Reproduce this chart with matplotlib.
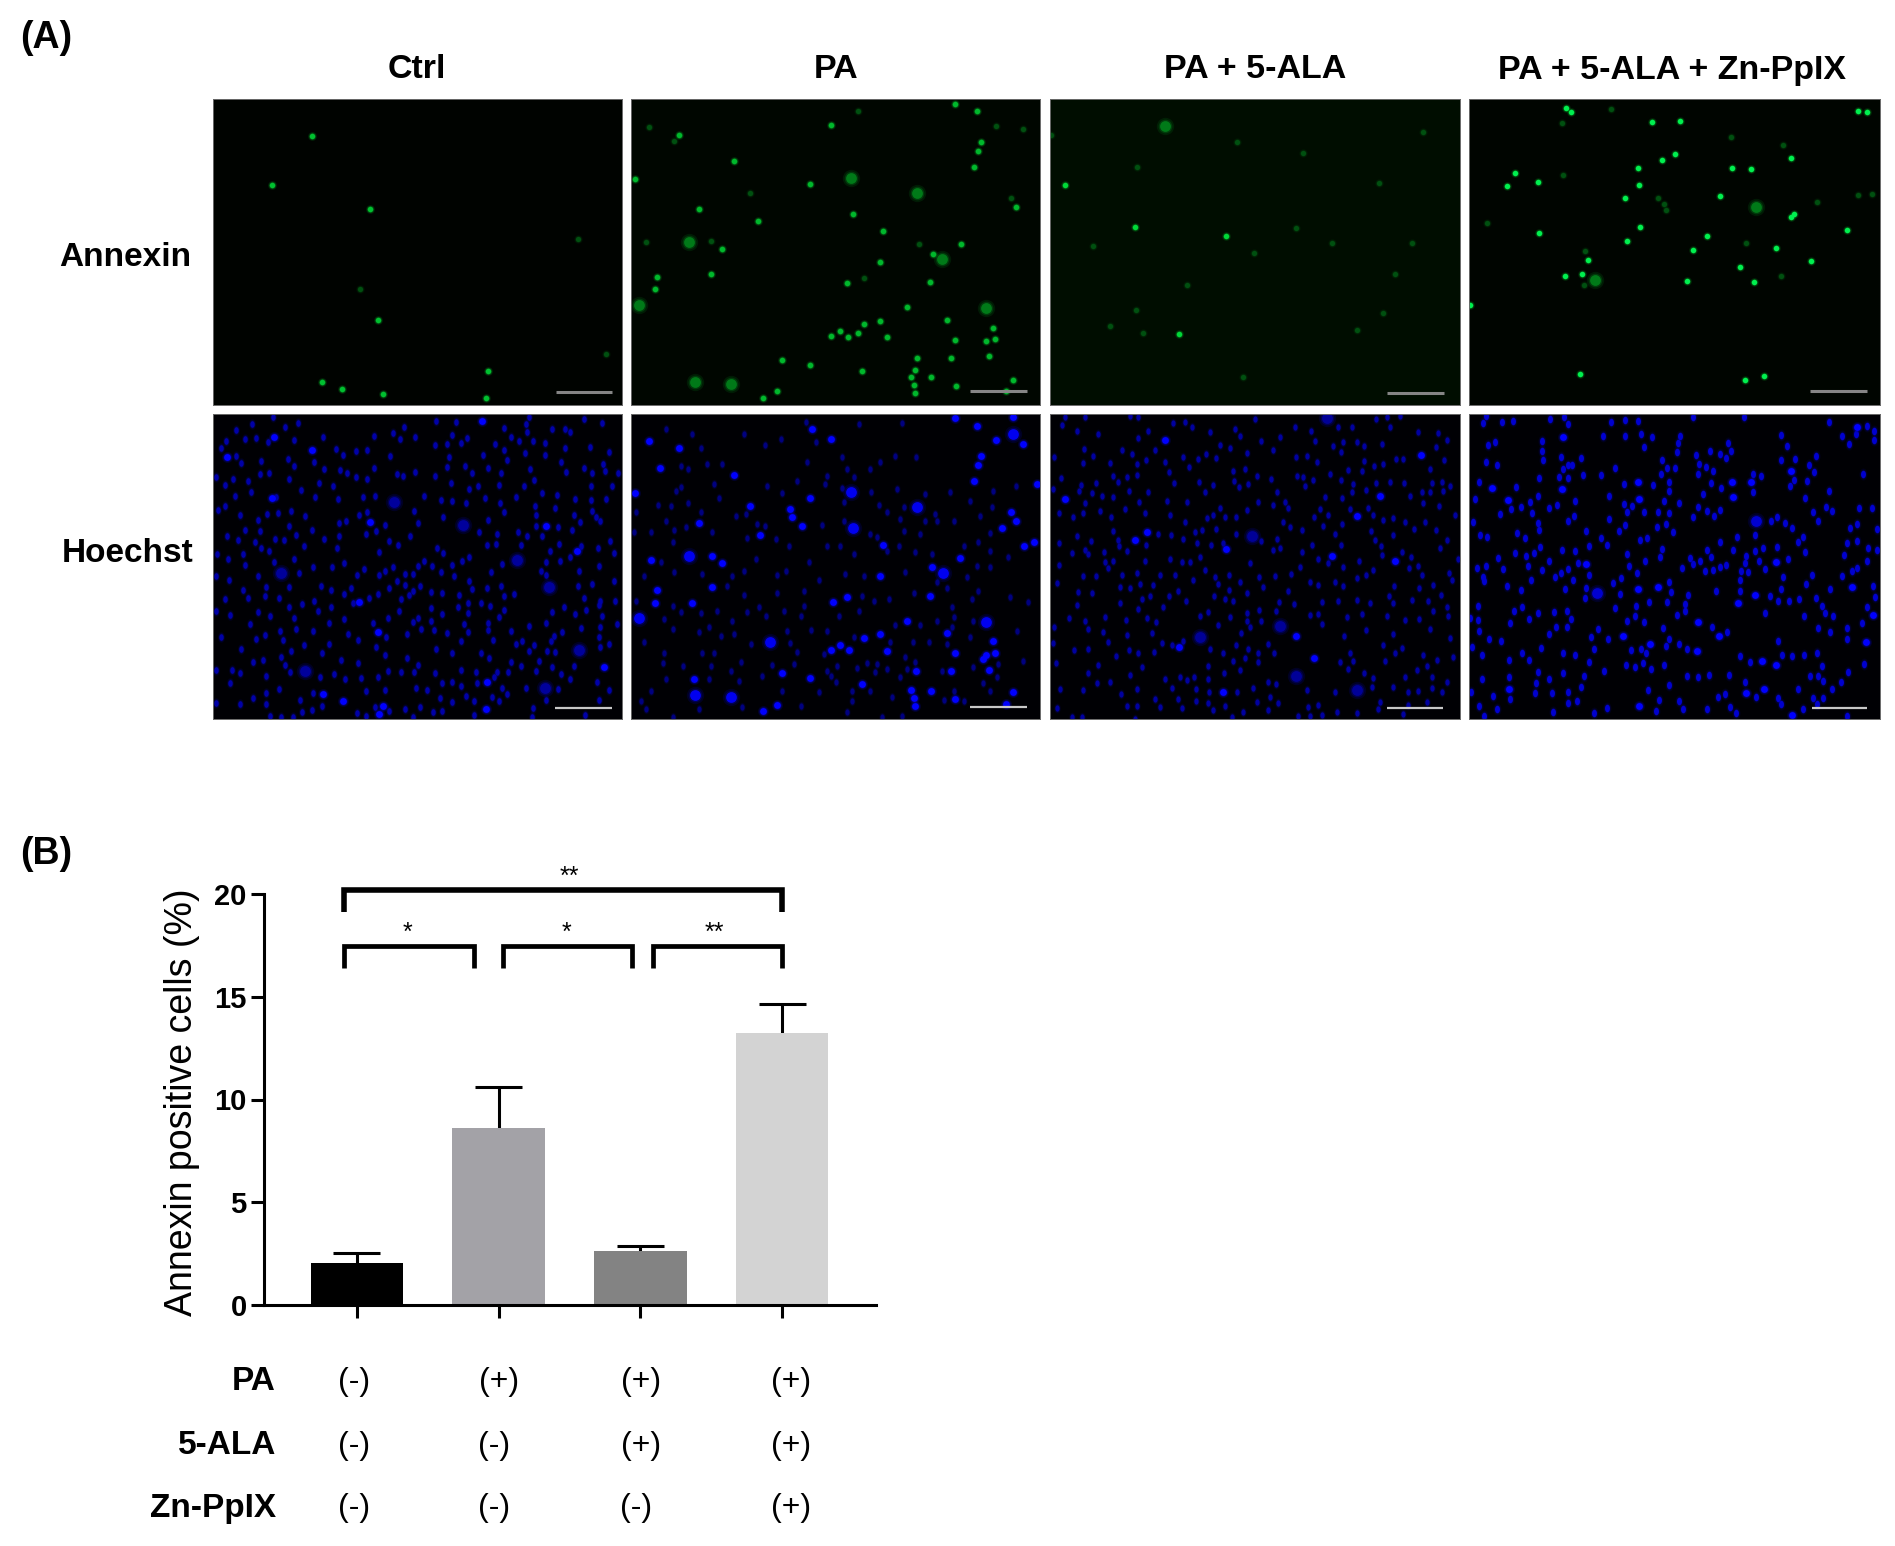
import matplotlib
matplotlib.use('Agg')
import matplotlib.pyplot as plt
from matplotlib.markers import MarkerStyle
from matplotlib.transforms import Affine2D

plt.rcParams['font.family'] = ['Liberation Sans', 'DejaVu Sans']

W, H = 1895, 1546

# ---- panel B values ----
bar_means = [2.05, 8.6, 2.64, 13.25]
bar_errors = [0.5, 2.03, 0.25, 1.38]
bar_colors = ['#000000', '#a3a2a7', '#838383', '#d3d3d3']
y_ticks = [0, 5, 10, 15, 20]
pa_row = ['(-)', '(+)', '(+)', '(+)']
ala_row = ['(-)', '(-)', '(+)', '(+)']
zn_row = ['(-)', '(-)', '(-)', '(+)']
row_names = ['PA', '5-ALA', 'Zn-PpIX']
col_names = ['Ctrl', 'PA', 'PA + 5-ALA', 'PA + 5-ALA + Zn-PpIX']

# brackets: start, end (in bar positions), top value, foot value, stars
bracket_x0 = [-0.09, -0.09, 1.03, 2.09]
bracket_x1 = [3.0, 0.825, 1.94, 3.0]
bracket_top = [20.2, 17.47, 17.47, 17.47]
bracket_foot = [19.1, 16.4, 16.4, 16.4]
bracket_stars = ['**', '*', '*', '**']
star_x = [1.5, 0.36, 1.48, 2.52]
star_y = [20.85, 18.1, 18.1, 18.1]

ctrl_annexin = [(298,112),(176,258),(471,328),(495,661),(826,812),(327,847),(389,867),(511,881),(820,893)]
ctrl_annexin_dim = [(1097,419),(442,568),(1181,762)]
ctrl_annexin_big = []

pa_annexin = [(600,77),(310,185),(538,254),(975,15),(1040,37),(1052,128),(1044,155),(1032,203),(143,107),(12,238),
    (204,329),(382,366),(668,345),(757,396),(275,449),(242,523),(78,531),(73,568),(651,551),(750,488),(907,464),
    (900,547),(992,433),(1158,324),(830,621),(950,660),(750,664),(702,674),(630,695),(600,710),(654,711),(684,701),
    (770,712),(973,722),(1089,685),(1068,724),(1096,718),(455,781),(538,795),(695,813),(860,774),(963,775),(1077,769),
    (855,811),(841,831),(903,832),(852,855),(855,878),(976,858),(1150,840),(1128,872),(438,874),(398,894)]
pa_annexin_dim = [(1098,80),(1180,90),(130,125),(1143,297),(867,434),(683,36),(358,280),(53,85),(45,428),(700,535),(240,425)]
pa_annexin_big = [(663,236),(860,282),(175,428),(935,478),(25,615),(1068,626),(193,847),(300,852)]

ala_annexin = [(44,258),(255,383),(528,410),(386,704)]
ala_annexin_dim = [(611,461),(846,430),(4,108),(986,250),(262,203),(1035,522),(1086,430),(737,385),(258,630),(560,130),(920,690),
    (760,160),(1120,100),(280,700),(1000,640),(410,555),(180,680),(580,830),(130,440)]
ala_annexin_big = [(344,82)]

zn_annexin = [(290,26),(305,40),(1165,37),(1192,40),(548,70),(632,66),(617,165),(577,182),(505,205),(965,176),(788,207),
    (843,208),(138,222),(207,249),(115,261),(508,257),(750,289),(468,296),(972,343),(964,352),(512,382),(210,401),
    (1131,391),(712,411),(473,426),(919,445),(670,453),(355,481),(1024,485),(810,503),(338,523),(286,528),(653,545),
    (854,546),(3,617),(333,823),(826,840),(882,829)]
zn_annexin_dim = [(425,30),(278,72),(783,113),(940,137),(280,228),(565,296),(1163,288),(1205,285),(1040,307),(53,370),
    (830,430),(348,454),(935,528),(345,556),(584,315),(590,332)]
zn_annexin_big = [(860,323),(378,540)]

ctrl_hoechst = [(180,8),(255,28),(218,38),(118,30),(70,48),(575,38),(670,20),(732,25),(875,42),(940,30),(950,8),(1020,45),
    (1060,45),(1075,55),(1115,15),(1170,28),(485,66),(540,58),(562,76),(607,70),(718,62),(765,72),(895,68),(945,55),(332,68),
    (245,78),(130,72),(97,76),(38,82),(165,85),(668,92),(705,90),(745,88),(847,90),(920,82),(962,80),(997,86),(1135,100),
    (1060,103),(25,102),(370,105),(430,110),(462,108),(392,122),(70,125),(225,135),(532,125),(710,128),(812,122),(875,108),
    (938,118),(997,122),(1190,114),(885,138),(145,142),(303,145),(1047,144),(85,148),(245,156),(335,165),(485,162),(383,168),
    (403,176),(168,178),(757,155),(703,160),(828,162),(952,165),(1172,150),(1115,163),(1217,178),(1062,175),(1140,178),
    (1180,172),(552,180),(572,187),(607,175),(668,187),(780,178),(867,178),(430,190),(463,196),(8,188),(60,195),(140,180),
    (228,195),(105,200),(965,198),(35,212),(320,208),(360,215),(715,206),(860,213),(935,215),(1138,217),(1200,215),(798,215),
    (770,225),(265,228),(115,235),(990,238),(1035,242),(450,250),(487,245),(635,245),(188,250),(67,246),(308,250),(545,265),
    (687,258),(718,262),(817,252),(910,250),(1090,255),(1138,258),(1183,255),(377,255),(760,268),(863,268),(35,275),(15,288),
    (82,302),(968,275),(1030,282),(972,302),(875,293),(1085,302),(1140,292),(235,292),(195,296),(463,294),(440,303),(605,290),
    (277,306),(692,310),(163,300),(135,318),(828,318),(1105,325),(1165,322),(1152,310),(400,322),(378,328),(518,332),(615,328),
    (228,336),(755,335),(142,352),(95,348),(297,348),(490,352),(460,360),(800,353),(853,360),(918,355),(1037,340),(1080,348),
    (970,335),(42,366),(250,362),(378,366),(335,375),(592,367),(988,367),(945,366),(187,376),(215,377),(75,378),(125,383),
    (528,380),(1193,380),(275,395),(555,393),(372,402),(825,393),(852,390),(925,392),(1042,390),(143,402),(675,402),(1157,403),
    (1108,395),(500,413),(693,418),(168,410),(90,420),(12,420),(1013,410),(1205,418),(45,436),(243,434),(183,444),(393,448),
    (635,440),(915,437),(770,430),(750,442),(1075,430),(1045,440),(1002,445),(870,450),(660,455),(718,452),(95,452),(300,460),
    (357,458),(455,465),(540,458),(615,455),(1160,456),(985,470),(205,476),(135,485),(258,476),(518,470),(685,475),(837,475),
    (433,483),(500,482),(1100,472),(1002,482),(8,487),(725,485),(578,480),(600,480),(48,497),(1205,500),(770,500),(552,500),
    (160,518),(1010,520),(228,520),(90,527),(325,515),(415,522),(622,515),(530,523),(578,512),(1140,510),(1097,515),(825,522),
    (865,515),(780,525),(600,530),(355,527),(105,553),(470,553),(393,540),(688,537),(655,533),(740,543),(905,540),(875,547),
    (198,552),(155,545),(495,540),(35,555),(305,560),(565,555),(590,543),(1165,560),(1117,552),(1210,560),(420,568),(268,570),
    (355,578),(767,566),(805,568),(833,575),(1055,580),(230,580),(655,582),(738,580),(875,588),(1160,572),(135,595),(315,590),
    (560,592),(1123,587),(8,592),(1020,593),(768,598),(688,600),(1090,600),(52,602),(172,605),(245,612),(395,615),(525,612),
    (615,612),(1170,605),(860,610),(655,620),(480,628),(600,625),(348,628),(112,630),(755,630),(828,628),(1000,628),(1215,630),
    (950,637),(625,645),(250,645),(200,650),(300,652),(665,647),(1108,643),(582,660),(703,657),(767,655),(828,648),(897,652),
    (1050,655),(1165,640),(25,668),(155,663),(405,660),(520,668),(1025,665),(130,675),(210,678),(437,678),(843,677),(1160,668),
    (745,680),(350,690),(275,692),(930,682),(910,690),(965,692),(1015,680),(490,698),(83,705),(235,710),(670,705),(1165,698),
    (950,712),(1003,710),(327,718),(718,718),(518,722),(1030,715),(1190,690),(805,716),(205,730),(830,733),(583,733),(150,738),
    (385,737),(120,743),(218,752),(437,748),(615,752),(895,743),(980,742),(925,755),(1087,755),(1020,758),(8,768),(58,768),
    (278,772),(232,775),(82,778),(527,770),(565,773),(745,768),(603,773),(668,777),(790,773),(855,775),(970,770),(1047,780),
    (888,775),(365,780),(160,785),(322,790),(398,795),(445,792),(495,790),(845,788),(1075,795),(690,807),(720,805),(795,808),
    (52,808),(1155,805),(745,815),(610,821),(645,827),(198,825),(460,832),(517,827),(870,822),(940,823),(1037,825),(160,837),
    (300,838),(885,840),(1190,827),(120,852),(683,853),(760,845),(840,850),(8,868),(263,858),(718,865),(785,860),(1000,857),
    (1160,857),(860,860),(82,870),(160,870),(328,875),(487,878),(622,878),(578,884),(298,888),(963,883),(268,893),(690,892),
    (662,895),(432,896),(528,892),(170,905),(205,910),(240,910),(1120,902),(785,902),(600,910),(960,910),(460,905)]
ctrl_hoechst_bright = [(810,20),(183,70),(298,107),(42,128),(472,323),(1000,335),(1095,412),(440,565),(495,655),(1177,758),
    (825,805),(330,840),(392,860),(510,875),(820,886),(500,900),(178,253)]
ctrl_hoechst_big = [(545,265),(753,332),(915,437),(1010,520),(1100,708),(998,822),(278,772),(205,476)]

pa_hoechst = [(183,60),(105,45),(210,102),(403,92),(340,60),(450,75),(525,25),(685,30),(815,28),(858,130),(750,145),(720,165),
    (795,125),(555,85),(635,130),(530,145),(650,165),(230,150),(275,150),(150,155),(170,165),(135,230),(150,220),(250,210),
    (410,215),(453,237),(500,200),(590,185),(670,190),(582,210),(635,222),(722,235),(800,225),(960,235),(1020,262),(1090,230),
    (1158,215),(885,240),(265,253),(172,267),(80,272),(120,275),(15,295),(210,295),(315,307),(345,300),(640,265),(745,272),
    (770,295),(820,280),(1050,305),(1085,280),(915,300),(105,320),(60,355),(130,347),(165,340),(245,355),(378,330),(403,335),
    (575,333),(640,320),(810,315),(885,320),(920,320),(970,322),(350,372),(437,375),(475,395),(590,397),(720,360),(740,368),
    (820,352),(870,360),(1080,358),(10,355),(1045,385),(1000,395),(125,385),(375,435),(535,445),(670,420),(630,395),(770,412),
    (805,395),(855,415),(905,420),(1080,410),(1135,430),(1040,455),(90,445),(130,473),(215,480),(305,485),(340,470),(440,483),
    (465,470),(565,497),(645,480),(700,487),(825,473),(1080,460),(40,485),(1010,490),(920,505),(950,522),(290,517),(440,537),
    (520,530),(850,538),(1045,530),(1025,555),(1140,550),(15,560),(125,575),(340,543),(385,580),(520,575),(695,545),(730,560),
    (775,555),(1195,565),(210,597),(258,592),(350,595),(460,590),(405,607),(510,605),(685,590),(965,580),(970,610),(100,615),
    (150,593),(305,620),(625,607),(795,632),(870,632),(920,620),(1030,620),(125,645),(235,640),(205,655),(270,665),(310,660),
    (470,650),(540,648),(590,650),(965,640),(1160,650),(1020,670),(40,685),(360,690),(478,687),(670,670),(778,685),(847,685),
    (895,685),(950,690),(100,717),(215,717),(250,717),(500,715),(580,720),(825,730),(95,748),(155,757),(240,755),(300,772),
    (330,745),(425,752),(490,750),(620,755),(710,748),(740,750),(1180,740),(1105,750),(855,745),(590,770),(680,762),(735,775),
    (770,765),(830,765),(935,770),(395,785),(1030,760),(105,795),(235,795),(325,800),(600,785),(810,790),(1060,808),(1100,790),
    (615,805),(455,830),(565,835),(665,830),(720,830),(1080,830),(970,830),(60,830),(30,860),(785,850),(1000,860),(940,858),
    (45,885),(205,885),(335,880),(510,875),(665,860),(650,895),(125,910),(755,908),(815,905)]
pa_hoechst_bright = [(1148,8),(88,162),(12,238),(538,252),(600,75),(310,182),(205,327),(358,276),(388,363),(245,425),(275,446),
    (243,520),(78,528),(73,566),(183,568),(440,872),(398,890),(455,778),(538,792),(695,810),(750,486),(905,460),(898,545),(608,563),
    (650,548),(830,620),(950,658),(702,672),(750,660),(630,692),(600,707),(655,708),(770,710),(973,718),(1088,682),(1067,722),
    (1095,716),(1058,735),(963,770),(1077,767),(858,770),(903,830),(1148,835),(975,855),(1128,870),(852,853),(855,875),(842,828),
    (988,432),(1158,322),(1143,294),(1040,35),(1052,125),(1044,152),(1032,202),(975,12),(545,44),(1213,385),(1115,342),(757,393),
    (478,285),(485,310),(513,335),(60,437),(145,103),(53,82),(1098,78),(188,795),(1182,395),(1180,90),(1220,210)]
pa_hoechst_big = [(663,233),(860,278),(1150,60),(668,343),(175,426),(25,611),(418,684),(193,843),(300,848),(938,476),(1068,623)]

ala_hoechst = [(35,32),(80,50),(145,60),(105,8),(45,8),(240,5),(265,8),(370,28),(405,25),(425,40),(480,55),(555,45),(615,15),
    (905,40),(865,40),(1010,8),(1050,5),(1020,38),(978,15),(735,40),(782,50),(690,68),(632,80),(570,65),(510,92),(540,102),
    (468,120),(265,72),(295,50),(315,108),(215,108),(245,120),(102,105),(12,130),(128,125),(590,118),(668,108),(795,82),(850,95),
    (880,85),(920,85),(943,95),(997,90),(1105,55),(1165,57),(1192,78),(1157,100),(400,130),(418,158),(345,145),(262,150),(288,137),
    (180,146),(100,148),(498,133),(445,135),(738,130),(772,127),(800,145),(872,115),(942,142),(973,155),(1000,150),(1037,135),
    (1060,135),(1140,165),(1183,138),(585,165),(548,170),(358,175),(260,183),(188,187),(232,190),(32,193),(620,187),(662,195),
    (740,185),(758,190),(788,197),(840,180),(873,198),(895,168),(935,170),(552,200),(205,205),(372,207),(448,203),(490,212),
    (595,210),(765,215),(910,210),(978,208),(1020,205),(1063,208),(1147,207),(1175,205),(92,212),(88,230),(137,207),(568,220),
    (8,225),(237,230),(295,235),(465,235),(680,233),(948,228),(1178,232),(1200,215),(125,238),(155,245),(188,250),(350,262),
    (268,264),(412,265),(625,265),(705,265),(668,273),(825,248),(875,252),(905,235),(1080,247),(1115,235),(1140,235),(1118,268),
    (1168,275),(105,268),(225,285),(150,290),(28,298),(100,298),(285,298),(360,303),(510,282),(590,288),(488,302),(525,310),
    (557,310),(715,282),(810,285),(955,283),(900,285),(835,303),(792,310),(970,302),(1215,302),(70,310),(183,310),(470,312),
    (405,325),(700,325),(875,330),(820,335),(1000,318),(1030,312),(1125,325),(720,340),(755,348),(1065,325),(1092,345),(1158,347),
    (190,350),(455,348),(498,345),(435,355),(558,360),(325,360),(362,362),(855,360),(962,350),(1030,362),(80,367),(400,375),
    (205,378),(122,380),(632,382),(680,376),(975,378),(1190,378),(28,388),(208,395),(288,393),(440,388),(483,392),(518,388),
    (787,392),(873,393),(993,395),(690,402),(670,408),(105,408),(1170,403),(65,418),(162,415),(230,412),(757,415),(115,420),
    (997,422),(1082,430),(1055,415),(360,435),(285,440),(450,430),(397,445),(421,445),(600,446),(803,435),(928,440),(28,452),
    (165,443),(190,442),(835,447),(880,458),(750,460),(175,462),(465,468),(968,468),(1078,463),(1105,455),(1225,435),(100,485),
    (137,485),(215,482),(262,478),(330,483),(375,482),(537,483),(627,490),(675,487),(722,480),(948,482),(1117,482),(1197,478),
    (495,488),(920,493),(430,498),(570,503),(780,505),(803,512),(855,505),(20,508),(1205,498),(505,510),(210,520),(240,522),
    (270,510),(310,512),(640,520),(880,517),(1033,517),(538,527),(85,535),(125,537),(592,536),(715,530),(1107,522),(1150,512),
    (385,530),(357,545),(492,547),(300,547),(275,555),(1017,545),(1172,543),(525,555),(550,560),(688,563),(408,562),(1085,558),
    (920,557),(960,567),(210,567),(815,563),(865,562),(80,572),(733,570),(1030,567),(340,578),(265,585),(628,588),(678,590),
    (1133,560),(1190,578),(1150,590),(475,595),(590,597),(450,605),(780,603),(805,600),(890,608),(935,600),(1010,607),(1195,606),
    (57,612),(165,610),(292,612),(228,618),(540,610),(1065,618),(1108,615),(318,625),(105,622),(592,622),(632,622),(815,630),
    (505,632),(600,640),(12,640),(115,645),(947,648),(1140,645),(158,655),(573,657),(232,662),(307,657),(1030,660),(882,665),
    (8,688),(175,685),(1200,672),(335,688),(365,692),(398,682),(558,693),(655,690),(1000,692),(72,708),(115,705),(238,708),
    (263,717),(312,714),(480,705),(595,705),(1055,703),(1035,717),(518,717),(625,718),(673,717),(198,725),(900,718),(550,740),
    (585,733),(1120,722),(1210,730),(625,745),(1005,742),(870,745),(908,740),(1160,738),(18,747),(143,752),(475,755),(277,760),
    (1130,755),(895,765),(570,769),(1100,767),(115,778),(522,777),(240,782),(942,778),(345,795),(390,788),(410,798),(433,790),
    (475,795),(968,793),(1065,790),(1145,788),(1190,803),(140,808),(180,805),(655,805),(678,810),(30,825),(100,828),(262,825),
    (365,822),(438,825),(610,823),(770,827),(967,820),(1030,820),(1145,822),(1175,835),(477,835),(560,835),(855,833),(213,840),
    (1075,835),(1105,830),(315,855),(385,855),(620,865),(660,850),(990,865),(475,868),(438,862),(232,875),(262,877),(20,883),
    (330,880),(395,882),(525,877),(685,866),(775,880),(805,873),(1130,865),(490,889),(578,895),(860,893),(920,897),(653,888),
    (1075,872),(985,885),(745,905),(815,903),(65,908),(95,908),(545,910),(1060,900),(255,915),(780,905)]
ala_hoechst_bright = [(345,78),(1112,122),(990,247),(45,255),(922,306),(292,355),(255,378),(527,405),(847,425),(1035,440),(738,665),
    (388,700),(792,733),(518,835)]
ala_hoechst_big = [(830,12),(607,366),(690,635),(450,670),(737,785),(920,828)]

zn_hoechst = [(98,25),(132,22),(243,14),(283,8),(297,30),(425,25),(468,17),(505,20),(670,10),(823,8),(1078,25),(1190,35),(1212,50),
    (50,5),(42,27),(400,67),(468,65),(515,60),(548,68),(632,65),(1117,65),(935,64),(1158,60),(1213,78),(78,83),(57,93),(218,82),
    (625,88),(775,87),(1137,90),(523,98),(953,97),(218,110),(622,115),(722,112),(785,110),(750,120),(680,122),(770,133),(1037,125),
    (275,130),(335,133),(50,145),(85,152),(222,138),(577,138),(935,137),(975,135),(687,150),(710,158),(1017,153),(437,163),(295,152),
    (280,165),(307,153),(592,162),(617,162),(730,170),(1033,175),(575,180),(342,182),(395,184),(685,180),(850,180),(875,187),(1180,180),
    (208,192),(268,190),(295,192),(30,203),(600,203),(725,207),(973,197),(1012,200),(465,210),(550,212),(140,218),(755,222),(962,217),
    (600,232),(850,235),(1078,232),(418,247),(207,245),(700,240),(17,255),(318,260),(1005,252),(182,263),(263,272),(463,270),(488,275),
    (583,262),(627,266),(155,280),(240,282),(125,285),(685,280),(750,287),(1168,283),(1205,282),(1068,280),(190,297),(93,300),(473,295),
    (525,293),(565,293),(598,296),(712,290),(1028,293),(1085,292),(315,305),(295,322),(420,315),(670,310),(733,307),(923,310),(905,322),
    (13,324),(206,326),(467,332),(1045,320),(590,330),(562,340),(947,328),(967,343),(1160,330),(1140,343),(208,347),(351,350),(450,352),
    (612,354),(1220,345),(145,358),(33,362),(53,368),(168,373),(395,373),(803,368),(855,364),(513,378),(533,372),(750,385),(1000,370),
    (985,383),(1130,387),(1160,380),(358,396),(412,394),(790,408),(880,403),(921,398),(1193,403),(1222,408),(137,418),(213,398),(195,418),
    (170,425),(277,407),(317,412),(473,420),(577,406),(712,407),(1007,413),(1122,422),(830,427),(87,433),(240,440),(527,440),(571,430),
    (725,430),(660,432),(690,440),(855,410),(868,440),(955,435),(325,447),(670,450),(825,447),(1190,440),(25,462),(50,455),(103,465),
    (178,455),(480,455),(638,463),(705,470),(730,467),(752,460),(770,452),(1160,462),(217,468),(295,465),(885,465),(1147,472),(275,478),
    (43,488),(358,483),(502,477),(835,475),(815,470),(1025,482),(1117,485),(187,497),(258,490),(310,498),(455,493),(940,490),(810,498),
    (45,502),(430,507),(600,505),(1008,510),(113,515),(1210,516),(157,527),(287,525),(350,522),(935,525),(1080,525),(740,530),(810,530),
    (452,540),(605,535),(347,552),(655,542),(900,545),(988,555),(1037,552),(1215,550),(592,563),(645,570),(925,562),(957,562),(540,565),
    (28,577),(160,578),(500,575),(438,582),(1055,575),(1190,578),(135,592),(255,595),(292,592),(645,590),(205,597),(1065,598),(887,597),
    (3,613),(27,618),(180,615),(497,607),(621,603),(1002,605),(1090,605),(472,620),(525,625),(122,626),(305,615),(728,638),(1043,643),
    (1130,643),(580,642),(260,640),(292,640),(385,645),(30,652),(240,660),(773,654),(1080,655),(1175,628),(600,675),(365,670),(417,675),
    (60,676),(97,680),(925,680),(1130,676),(628,690),(8,700),(590,695),(216,703),(485,708),(652,705),(515,705),(40,722),(160,718),(280,718),
    (316,724),(373,706),(530,718),(812,725),(937,722),(968,725),(1003,722),(1042,718),(120,738),(180,738),(360,745),(583,752),(840,745),
    (470,752),(497,760),(520,747),(545,765),(1183,750),(1055,756),(205,773),(280,776),(405,770),(120,788),(653,787),(718,784),(778,783),
    (1135,775),(1020,785),(1045,785),(685,790),(345,785),(240,795),(38,795),(1112,805),(1060,800),(825,805),(600,813),(200,808),(335,820),
    (767,840),(985,825),(535,828),(5,835),(247,838),(297,835),(198,837),(1085,825),(72,847),(122,855),(745,850),(925,852),(1030,853),
    (1060,853),(322,862),(295,868),(570,857),(627,862),(860,850),(30,875),(85,885),(412,883),(640,885),(713,885),(780,878),(935,870),
    (1040,870),(250,893),(373,898),(800,897),(560,890),(1000,885),(45,905),(1130,905)]
zn_hoechst_bright = [(1162,38),(280,68),(963,172),(505,203),(788,204),(843,205),(68,222),(277,225),(790,250),(508,255),(117,258),
    (920,443),(350,450),(505,525),(565,520),(1145,518),(855,543),(805,567),(1208,603),(685,625),(460,667),(747,667),(1188,684),(542,690),
    (682,710),(878,742),(918,753),(882,825),(828,838),(120,826),(508,875),(968,903)]
zn_hoechst_big = [(858,320),(383,536)]

annexin_bars = [(1032,1201,875), (1020,1190,872), (1012,1181,880), (1020,1192,872)]
hoechst_bars = [(1030,1200,882), (1020,1190,878), (1010,1180,882), (1025,1192,882)]


def px_axes(left, top, right, bottom):
    return fig.add_axes([left / W, 1 - bottom / H, (right - left) / W, (bottom - top) / H])


def px_text(x, y, s, **kw):
    fig.text(x / W, 1 - y / H, s, **kw)


# draws one group of spots, soft layers under a sharper core
def spots(ax, pts, size, core, halo, marker='o'):
    if not pts:
        return
    xs = [p[0] for p in pts]
    ys = [p[1] for p in pts]
    ax.scatter(xs, ys, s=size * 2.6, c=halo, linewidths=0, alpha=0.25, marker=marker)
    ax.scatter(xs, ys, s=size * 1.6, c=halo, linewidths=0, alpha=0.5, marker=marker)
    ax.scatter(xs, ys, s=size, c=core, linewidths=0, marker=marker)


def panel(left, top, right, bottom, bg):
    ax = px_axes(left, top, right, bottom)
    ax.set_facecolor(bg)
    ax.set_xlim(0, 1230)
    ax.set_ylim(915, 0)
    ax.set_xticks([])
    ax.set_yticks([])
    for s in ax.spines.values():
        s.set_color('#6a6a6a')
        s.set_linewidth(0.7)
    return ax


fig = plt.figure(figsize=(W / 100, H / 100), dpi=100, facecolor='white')

lefts = [213, 631, 1050, 1469]
rights = [622, 1040, 1460, 1880]
green_groups = [(ctrl_annexin, ctrl_annexin_dim, ctrl_annexin_big), (pa_annexin, pa_annexin_dim, pa_annexin_big),
                (ala_annexin, ala_annexin_dim, ala_annexin_big), (zn_annexin, zn_annexin_dim, zn_annexin_big)]
green_core = ['#00c030', '#00b82c', '#00d838', '#00f050']
green_bg = ['#000300', '#000600', '#000d00', '#000500']
blue_groups = [(ctrl_hoechst, ctrl_hoechst_bright, ctrl_hoechst_big), (pa_hoechst, pa_hoechst_bright, pa_hoechst_big),
               (ala_hoechst, ala_hoechst_bright, ala_hoechst_big), (zn_hoechst, zn_hoechst_bright, zn_hoechst_big)]
blue_core = ['#0000a8', '#000080', '#0000a0', '#0000d0']
blue_big = ['#00009c', '#0000f0', '#000098', '#0000d0']
blue_size = [15, 12, 13, 19]
# nuclei are a bit longer than wide
oval = MarkerStyle('o', transform=Affine2D().scale(0.82, 1.22))

for i in range(4):
    ax = panel(lefts[i], 99, rights[i], 405, green_bg[i])
    normal, dim, big = green_groups[i]
    spots(ax, big, 60, '#007a18', '#005c12')
    spots(ax, dim, 14, '#005010', '#003a0a')
    spots(ax, normal, 15, green_core[i], '#008a1c')
    x0, x1, y = annexin_bars[i]
    ax.plot([x0, x1], [y, y], color='#858585', lw=2.2, solid_capstyle='butt')

    ax = panel(lefts[i], 414, rights[i], 719, '#000004')
    normal, bright, big = blue_groups[i]
    spots(ax, normal, blue_size[i], blue_core[i], '#000060', marker=oval)
    spots(ax, big, 60, blue_big[i], '#000080')
    spots(ax, bright, 24, '#0000ff', '#0000a0')
    x0, x1, y = hoechst_bars[i]
    ax.plot([x0, x1], [y, y], color='#c8c8c8', lw=1.6, solid_capstyle='butt')

# ---- panel A labels ----
centers = [417, 836, 1255, 1672]
for cx, name in zip(centers, col_names):
    px_text(cx, 70, name, ha='center', va='center', fontsize=24.5, fontweight='bold')
px_text(191, 257, 'Annexin', ha='right', va='center', fontsize=24, fontweight='bold')
px_text(193, 553, 'Hoechst', ha='right', va='center', fontsize=24, fontweight='bold')
px_text(20, 38, '(A)', ha='left', va='center', fontsize=27, fontweight='bold')
px_text(20, 854, '(B)', ha='left', va='center', fontsize=27, fontweight='bold')

# ---- panel B ----
ax = px_axes(264, 894, 876, 1305)
x = list(range(4))
ax.bar(x, bar_means, width=0.653, color=bar_colors, zorder=2)
# upper whiskers only
tops = [m + e for m, e in zip(bar_means, bar_errors)]
ax.vlines(x, bar_means, tops, color='black', lw=2.2, zorder=1)
ax.hlines(tops, [v - 0.166 for v in x], [v + 0.166 for v in x], color='black', lw=2.2, zorder=1)
ax.set_xlim(-0.656, 3.663)
ax.set_ylim(0, 20)
ax.set_xticks(x)
ax.set_xticklabels([])
ax.set_yticks(y_ticks)
ax.tick_params(axis='both', length=9.5, width=2.2)
ax.tick_params(axis='y', labelsize=21, pad=3)
for lab in ax.get_yticklabels():
    lab.set_fontweight('bold')
for side in ['top', 'right']:
    ax.spines[side].set_visible(False)
for side in ['left', 'bottom']:
    ax.spines[side].set_linewidth(2.2)
ax.patch.set_alpha(0)

for x0, x1, top, foot in zip(bracket_x0, bracket_x1, bracket_top, bracket_foot):
    lw = 4 if x1 - x0 > 2 else 3.4
    ax.plot([x0, x0, x1, x1], [foot, top, top, foot], color='black', lw=lw,
            clip_on=False, solid_joinstyle='miter', solid_capstyle='butt')
for sx, sy, st in zip(star_x, star_y, bracket_stars):
    ax.text(sx, sy, st, ha='center', va='center', fontsize=18, clip_on=False)

px_text(182, 1102, 'Annexin positive cells (%)', rotation=90, ha='center', va='center', fontsize=27)

# ---- +/- table under the bars ----
rows = [pa_row, ala_row, zn_row]
row_y = [1382, 1446, 1508]
plus_x = [354, 499, 641, 791]
minus_x = [354, 494, 636, 791]
for name, vals, ry in zip(row_names, rows, row_y):
    px_text(276, ry, name, ha='right', va='center', fontsize=24, fontweight='bold')
    for j, v in enumerate(vals):
        cx = plus_x[j] if v == '(+)' else minus_x[j]
        px_text(cx, ry, v, ha='center', va='center', fontsize=23)

fig.savefig('out.png', dpi=100, facecolor='white')
